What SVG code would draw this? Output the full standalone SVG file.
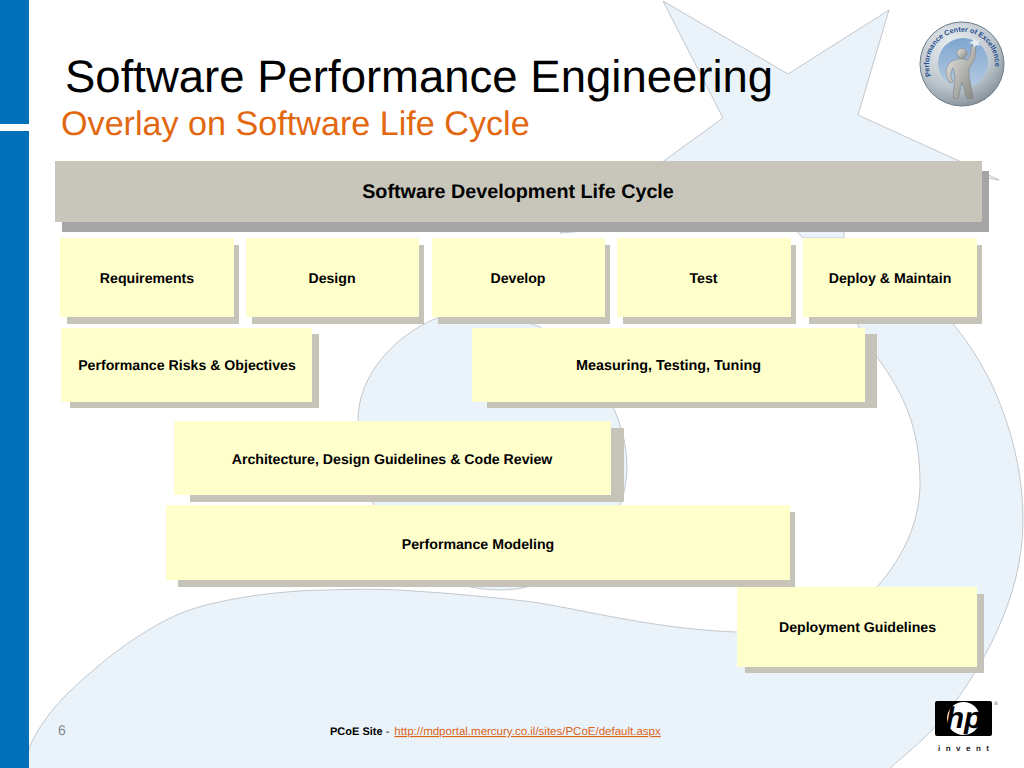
<svg xmlns="http://www.w3.org/2000/svg" width="1024" height="768" viewBox="0 0 1024 768">
<style>
text{font-family:"Liberation Sans",Arial,sans-serif;text-rendering:geometricPrecision}
.bg{fill:#ebf3fa;stroke:#aeb2b6;stroke-width:.7}
.sh{fill:#c6c3b9}
.bx{fill:#ffffcc}
.lb{font-size:14.150px;font-weight:bold;fill:#000;text-anchor:middle}
</style>
<defs>
<radialGradient id="ring" cx=".4" cy=".3" r=".8"><stop offset="0" stop-color="#eef1f3"/><stop offset=".6" stop-color="#bcc5cc"/><stop offset="1" stop-color="#77838d"/></radialGradient>
<linearGradient id="disc" x1="0" y1="0" x2="0" y2="1"><stop offset="0" stop-color="#7fa6cf"/><stop offset="1" stop-color="#b4cbe2"/></linearGradient>
<linearGradient id="man" x1="0" y1="0" x2="1" y2="1"><stop offset="0" stop-color="#e8e8e6"/><stop offset="1" stop-color="#85857f"/></linearGradient>
<path id="seal" d="M931 76A33 33 0 1 1 993 76"/>
</defs>
<rect width="1024" height="768" fill="#fff"/>
<g id="background">
<path class="bg" d="M663 1L788 74L889 10L858 115L957 160L999 180L975 176L975 222L844 222L844 238L803 238L788 222L673 222L573 232L560 233L665 160L723 118Z"/>
<path class="bg" d="M437 318C395 335 358 375 358 420C358 450 362 480 373 503C395 555 440 590 500 590C570 590 627 530 627 467C627 420 600 365 540 327C510 315 470 310 437 318Z"/>
<path class="bg" d="M27 770L29 748C45 712 70 690 97 667C124 644 158 622 184 612C218 599 280 590 330 590C355 589 375 589 397 590C450 593 490 597 533 602C570 608 600 615 630 620C670 627 705 631 737 632C790 636 840 622 877 587C905 555 920 520 920 483C920 430 905 395 877 357C870 347 860 332 855 318L948 318C960 332 975 350 993 387C1010 425 1023 470 1023 520C1023 600 980 670 947 713C930 735 908 752 888 770Z"/>
</g>
<g id="sidebar">
<rect width="29" height="124" fill="#0070b8"/>
<rect y="131" width="29" height="637" fill="#0070b8"/>
</g>
<text x="65" y="92" font-size="45.500" fill="#000">Software Performance Engineering</text>
<text x="61" y="135" font-size="34.150" fill="#e2670f">Overlay on Software Life Cycle</text>
<g id="header">
<rect x="62" y="171" width="927" height="61" fill="#a6a5a6"/>
<rect x="55" y="161" width="927" height="61" fill="#c8c6bb"/>
<text class="lb" x="518" y="198" style="font-size:19.750px">Software Development Life Cycle</text>
</g>
<g id="requirements"><rect class="sh" x="67" y="245" width="172" height="79"/><rect class="bx" x="60" y="238" width="174" height="79"/><text class="lb" x="147" y="282.500">Requirements</text></g>
<g id="design"><rect class="sh" x="252" y="245" width="172" height="79"/><rect class="bx" x="246" y="238" width="173" height="79"/><text class="lb" x="332" y="282.500">Design</text></g>
<g id="develop"><rect class="sh" x="438" y="245" width="172" height="79"/><rect class="bx" x="432" y="238" width="173" height="79"/><text class="lb" x="518" y="282.500">Develop</text></g>
<g id="test"><rect class="sh" x="623" y="245" width="173" height="79"/><rect class="bx" x="617" y="238" width="174" height="79"/><text class="lb" x="703.500" y="282.500">Test</text></g>
<g id="deploy"><rect class="sh" x="809" y="245" width="173" height="79"/><rect class="bx" x="803" y="238" width="174" height="79"/><text class="lb" x="890" y="282.500">Deploy &amp; Maintain</text></g>
<g id="risks"><rect class="sh" x="70" y="334" width="249" height="74"/><rect class="bx" x="61" y="328" width="251" height="74"/><text class="lb" x="187" y="370">Performance Risks &amp; Objectives</text></g>
<g id="measuring"><rect class="sh" x="487" y="334" width="390" height="74"/><rect class="bx" x="472" y="328" width="393" height="74"/><text class="lb" x="668.500" y="370" style="font-size:14.400px">Measuring, Testing, Tuning</text></g>
<g id="architecture"><rect class="sh" x="190" y="428" width="434" height="74"/><rect class="bx" x="174" y="421" width="437" height="74"/><text class="lb" x="392" y="463.500">Architecture, Design Guidelines &amp; Code Review</text></g>
<g id="modeling"><rect class="sh" x="178" y="512" width="617" height="75"/><rect class="bx" x="166" y="505" width="624" height="75"/><text class="lb" x="478" y="548.500">Performance Modeling</text></g>
<g id="guidelines"><rect class="sh" x="745" y="594" width="239" height="79"/><rect class="bx" x="737" y="587" width="240" height="80"/><text class="lb" x="857.500" y="631.500">Deployment Guidelines</text></g>
<g id="footer">
<text x="58" y="735" font-size="14" fill="#7f8a94">6</text>
<text x="330" y="735" font-size="11" fill="#000"><tspan font-weight="bold">PCoE Site</tspan> - <tspan dx="2" fill="#d9641a" text-decoration="underline" font-size="11.500">http://mdportal.mercury.co.il/sites/PCoE/default.aspx</tspan></text>
</g>
<g id="pcoe-seal">
<circle cx="962" cy="64" r="42" fill="url(#ring)" stroke="#6f7c86" stroke-width="1"/>
<circle cx="963" cy="63" r="25" fill="url(#disc)"/>
<text font-size="7.200" font-weight="bold" fill="#1f4f8f"><textPath href="#seal">Performance Center of Excellence</textPath></text>
<circle cx="962" cy="53.500" r="5" fill="url(#man)" stroke="#777" stroke-width=".5"/>
<path fill="url(#man)" stroke="#777" stroke-width=".5" d="M952 61Q960 57 967 60Q972 55 971 46L975 46Q978 58 969 68L969 76L973 98L967 99L962 82L958 99L953 98L955 76L953 68Q950 72 951 77L953 82L950 83Q945 76 946 70Q947 64 952 61Z"/>
<path fill="#e8edf2" d="M974 38l2 3 4-1-2 3 2 3-4-1-2 3-1-4-4-1 4-2z"/>
</g>
<g id="hp-logo">
<rect x="935" y="701" width="57" height="35" rx="2" fill="#000"/>
<circle cx="963.500" cy="718.500" r="16.500" fill="#fff"/>
<text x="964" y="728" font-size="30" font-weight="bold" font-style="italic" text-anchor="middle" fill="#000">hp</text>
<text x="996" y="705" font-size="5" fill="#555" text-anchor="middle">®</text>
<text x="938" y="751" font-size="8" font-weight="bold" fill="#222" textLength="51" lengthAdjust="spacing">invent</text>
</g>
</svg>
